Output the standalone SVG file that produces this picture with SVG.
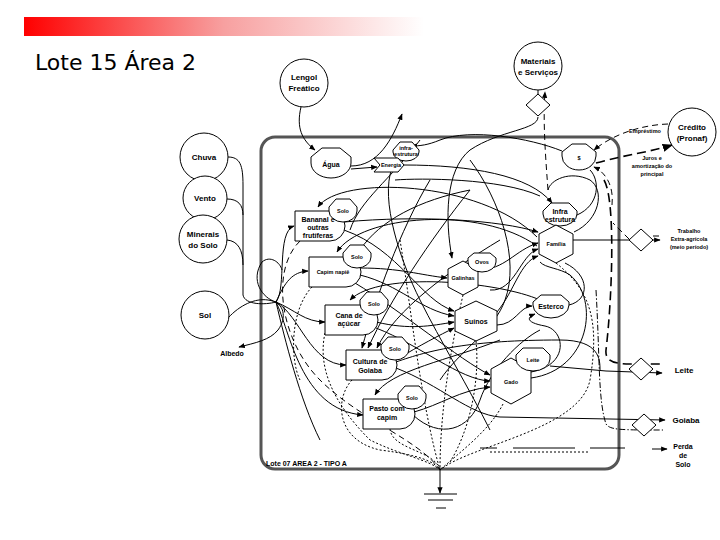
<svg xmlns="http://www.w3.org/2000/svg" width="720" height="540" viewBox="0 0 720 540">
<defs>
<linearGradient id="bar" x1="0" y1="0" x2="1" y2="0">
<stop offset="0" stop-color="#ff0000"/>
<stop offset="0.5" stop-color="#f7a0a0"/>
<stop offset="1" stop-color="#ffffff"/>
</linearGradient>
<marker id="ah" viewBox="0 0 10 10" refX="9" refY="5" markerWidth="6.5" markerHeight="6.5" orient="auto-start-reverse">
<path d="M0,1 L10,5 L0,9 Z" fill="#000"/>
</marker>
</defs>
<style>
.n{fill:#fff;stroke:#000;stroke-width:1}
.t{font-family:"Liberation Sans",Arial,sans-serif;font-weight:bold;font-size:7px;text-anchor:middle;fill:#000}
.tb{font-family:"Liberation Sans",Arial,sans-serif;font-weight:bold;font-size:8px;text-anchor:middle;fill:#000}
.ts{font-family:"Liberation Sans",Arial,sans-serif;font-weight:bold;font-size:5.5px;text-anchor:middle;fill:#000}
.c{fill:none;stroke:#000;stroke-width:1}
.a{marker-end:url(#ah)}
.d{stroke-dasharray:6 4}
.dh{stroke-dasharray:9 5;stroke-width:1.6}
.dt{stroke-dasharray:2 2}
.dd{stroke-dasharray:6 2 1.5 2}
</style>
<rect width="720" height="540" fill="#fff"/>
<rect x="24" y="17" width="400" height="19" fill="url(#bar)"/>
<text x="35" y="70" font-family="'DejaVu Sans',sans-serif" font-size="22" fill="#000">Lote 15 Área 2</text>

<rect x="261" y="137" width="358" height="332" rx="14" fill="none" stroke="#555" stroke-width="3"/>
<text x="266" y="466" font-family="'Liberation Sans',Arial,sans-serif" font-weight="bold" font-size="7" fill="#000">Lote 07  AREA 2 - TIPO A</text>

<g id="connectors">
<path class="c a" d="M301,107 C296,128 302,140 315,150"/>
<path class="c a" d="M351,166 C378,166 392,140 402,114"/>
<path class="c a" d="M351,169 L377,167"/>
<path class="c a" d="M404,165 C470,165 530,175 552,203"/>
<path class="c a" d="M562,151 C530,138 470,128 440,140 C428,145 420,146 411,146"/>
<path class="c" d="M538,90 L538,94"/>
<path class="c a" d="M538,117 C538,130 500,130 470,150 C445,170 445,220 452,258"/>
<path class="c d a" d="M548,190 C545,150 543,120 545,92"/>
<path class="c d a" d="M668,124 C640,125 612,135 594,150"/>
<path class="c dh a" d="M596,163 C625,155 650,152 672,145"/>
<path class="c d a" d="M612,205 C614,185 605,172 594,167"/>
<path class="c dh" d="M604,180 C616,200 612,300 606,350 C605,360 612,364 630,364 L663,364"/>
<path class="c dd" d="M596,290 C600,360 598,400 606,424 C610,430 620,430 663,430"/>
<path class="c d" d="M629,239 L613,223"/>
<path class="c d" d="M653,236 L661,236"/>
<path class="c a" d="M573,240 L660,240"/>
<path class="c a" d="M550,366 L606,371 L662,373"/>
<path class="c a" d="M396,368 C440,385 470,415 500,417 L665,420"/>
<path class="c" d="M480,448 L497,448 M513,448 L575,448 M590,448 L625,448"/>
<path class="c a" d="M652,449 L667,449"/>
<path class="c dt" d="M490,452 L590,452"/>

<path class="c" d="M228,157 C240,157 243,165 243,185 L243,295 C245,305 265,305 276,302"/>
<path class="c" d="M227,199 C238,199 243,205 243,215"/>
<path class="c" d="M227,240 C238,241 243,250 243,265"/>
<path class="c a" d="M228,318 C240,305 255,298 268,300 C285,302 287,318 278,330 C270,340 255,343 239,347"/>
<path class="c" d="M276,302 C262,298 250,280 262,262 C270,255 280,262 282,270"/>
<path class="c a" d="M276,302 C287,288 276,232 294,226"/>
<path class="c a" d="M276,302 C285,282 292,272 308,271"/>
<path class="c a" d="M276,302 C295,310 305,322 325,322"/>
<path class="c a" d="M276,302 C300,315 310,365 346,365"/>
<path class="c a" d="M276,302 C290,330 300,410 363,415"/>
<path class="c" d="M276,302 C285,340 300,400 320,440"/>

<path class="c a" d="M360,268 C400,268 420,275 447,278"/>
<path class="c a" d="M360,275 C400,285 420,310 454,316"/>
<path class="c a" d="M355,283 C400,310 460,360 490,375"/>
<path class="c a" d="M376,322 C410,330 430,326 454,322"/>
<path class="c a" d="M376,328 C420,345 460,380 490,381"/>
<path class="c a" d="M396,360 C420,345 440,335 454,328"/>
<path class="c a" d="M414,412 C440,405 460,390 490,387"/>
<path class="c a" d="M344,230 C400,250 420,300 454,311"/>
<path class="c a" d="M344,222 C420,215 500,220 538,232"/>
<path class="c a" d="M478,270 C505,270 515,250 538,243"/>
<path class="c a" d="M490,290 C515,292 520,255 538,249"/>
<path class="c a" d="M497,312 C515,290 520,262 538,256"/>
<path class="c a" d="M497,325 C515,325 520,306 532,306"/>
<path class="c a" d="M531,372 C570,365 565,330 545,326 C528,323 525,318 535,314"/>
<path class="c" d="M531,378 C590,370 600,300 570,275 C560,268 545,268 540,262"/>
<path class="c" d="M569,305 C590,300 590,275 565,263"/>
<path class="c" d="M574,232 C600,220 605,190 590,180 C570,170 550,180 548,190"/>
<path class="c" d="M577,215 C600,205 600,180 590,170"/>

<path class="c a" d="M537,237 C480,180 340,175 318,207"/>
<path class="c a" d="M537,246 C480,205 360,215 337,252"/>
<path class="c a" d="M540,300 C500,282 380,270 350,300"/>
<path class="c a" d="M430,180 C400,230 375,300 362,348"/>
<path class="c a" d="M470,190 C430,240 390,300 368,348"/>
<path class="c a" d="M500,240 C450,270 395,310 377,348"/>
<path class="c a" d="M500,340 C450,360 390,370 375,395"/>
<path class="c" d="M396,362 C430,350 470,340 560,340 C600,340 600,360 600,370"/>
<path class="c" d="M413,415 C440,440 470,430 480,400 C490,370 520,340 540,330"/>
<path class="c" d="M392,168 C380,200 400,260 420,300 C440,340 470,390 490,430"/>
<path class="c" d="M420,140 C390,180 360,200 350,230"/>
<path class="c" d="M470,160 C500,200 520,260 505,300 C495,330 460,350 440,380"/>
<path class="c" d="M360,250 C380,220 420,200 470,190"/>
<path class="c" d="M395,180 C420,178 500,178 540,196"/>

<path class="c d" d="M300,241 C270,270 280,340 320,380 C360,420 420,440 440,470"/>
<path class="c dt" d="M325,333 C318,365 330,400 370,440 C400,455 430,460 440,470"/>
<path class="c dt" d="M352,380 C335,398 335,440 380,450 C420,455 435,462 440,470"/>
<path class="c dt" d="M390,429 C392,450 435,450 440,470"/>
<path class="c dt" d="M503,404 C490,430 460,452 440,470"/>
<path class="c dt" d="M556,263 C590,290 600,320 590,380 C580,430 470,445 440,470"/>
<path class="c dt" d="M463,295 C455,330 440,400 440,470"/>
<path class="c dt" d="M400,240 C410,300 420,400 440,470"/>
<path class="c dt" d="M312,287 C290,310 290,360 300,380"/>
<path class="c dt" d="M476,341 C480,380 470,430 450,462"/>
<path class="c a" d="M440,470 L440,493"/>
<path class="c" d="M424,494 L457,494 M428,500 L453,500 M436,508 L446,508"/>
</g>

<g id="lengol"><circle class="n" cx="304" cy="83" r="24"/><text class="tb" x="304" y="80">Lengol</text><text class="tb" x="304" y="91">Freático</text></g>
<g id="materiais"><circle class="n" cx="538" cy="66" r="24"/><text class="tb" x="538" y="64">Materiais</text><text class="tb" x="538" y="75">e Serviços</text></g>
<g id="diam-mat"><path class="n" d="M538,94 L550,105 L538,116 L526,105 Z"/></g>
<g id="credito"><circle class="n" cx="692" cy="132" r="24"/><text class="tb" x="692" y="130">Crédito</text><text class="tb" x="692" y="141">(Pronaf)</text></g>
<g id="chuva"><circle class="n" cx="204" cy="157" r="24"/><text class="tb" x="204" y="160">Chuva</text></g>
<g id="vento"><circle class="n" cx="205" cy="198" r="22"/><text class="tb" x="205" y="201">Vento</text></g>
<g id="minerais"><circle class="n" cx="203" cy="239" r="24"/><text class="tb" x="203" y="237">Minerais</text><text class="tb" x="203" y="248">do Solo</text></g>
<g id="sol"><circle class="n" cx="205" cy="315" r="24"/><text class="tb" x="205" y="318">Sol</text></g>
<text class="t" x="232" y="356">Albedo</text>
<text class="ts" x="645" y="133">Empréstimo</text>
<text class="ts" x="652" y="160">Juros e</text><text class="ts" x="652" y="168">amortização do</text><text class="ts" x="652" y="176">principal</text>

<g id="agua"><path class="n" d="M311,157 L322,148 L340,148 L351,157 L351,163 A20,15 0 0 1 311,163 Z"/><text class="t" x="331" y="167">Água</text></g>
<g id="infra1"><path class="n" d="M393,150 L400,142 L412,142 L419,150 L419,152 A13,9 0 0 1 393,152 Z"/><text class="ts" x="406" y="150" font-size="4.5">infra-</text><text class="ts" x="406" y="156" font-size="4.5">estrutura</text></g>
<g id="energia"><path class="n" d="M374,158 L398,158 L404,165 L398,172 L374,172 L380,165 Z"/><text class="ts" x="391" y="167" font-size="4.5">Energia</text></g>
<g id="dinheiro"><path class="n" d="M562,152 L572,144 L586,144 L596,152 L596,156 A17,14 0 0 1 562,156 Z"/><text class="ts" x="579" y="160">$</text></g>
<g id="infra2"><path class="n" d="M543,211 L551,203 L569,203 L577,211 L577,214 A17,12 0 0 1 543,214 Z"/><text class="t" x="560" y="214">Infra</text><text class="t" x="560" y="222">estrutura</text></g>
<g id="familia"><path class="n" d="M556,225 L573,234 L573,254 L556,263 L539,254 L539,234 Z"/><text class="ts" x="556" y="246">Família</text></g>

<g id="bananal"><path class="n" d="M295,211 L330,211 A15,15 0 0 1 330,241 L295,241 Z"/><path class="n" d="M329,207 L336,199 L350,199 L357,207 L357,211 A14,11 0 0 1 329,211 Z"/><text class="ts" x="343" y="213">Solo</text><text class="t" x="318" y="222">Bananal e</text><text class="t" x="318" y="230">outras</text><text class="t" x="318" y="238">frutíferas</text></g>
<g id="capim"><path class="n" d="M309,257 L346,257 A15,15 0 0 1 346,287 L309,287 Z"/><path class="n" d="M343,253 L350,245 L364,245 L371,253 L371,257 A14,11 0 0 1 343,257 Z"/><text class="ts" x="357" y="259">Solo</text><text class="ts" x="333" y="274">Capim napiê</text></g>
<g id="cana"><path class="n" d="M325,305 L363,305 A15,15 0 0 1 363,335 L325,335 Z"/><path class="n" d="M360,300 L367,292 L381,292 L388,300 L388,304 A14,11 0 0 1 360,304 Z"/><text class="ts" x="374" y="306">Solo</text><text class="t" x="349" y="318">Cana de</text><text class="t" x="349" y="326">açúcar</text></g>
<g id="goiaba"><path class="n" d="M346,350 L382,350 A15,15 0 0 1 382,380 L346,380 Z"/><path class="n" d="M381,345 L388,337 L402,337 L409,345 L409,349 A14,11 0 0 1 381,349 Z"/><text class="ts" x="395" y="351">Solo</text><text class="t" x="370" y="364">Cultura de</text><text class="t" x="370" y="373">Goiaba</text></g>
<g id="pasto"><path class="n" d="M363,399 L400,399 A15,15 0 0 1 400,429 L363,429 Z"/><path class="n" d="M398,394 L405,386 L419,386 L426,394 L426,398 A14,11 0 0 1 398,398 Z"/><text class="ts" x="412" y="400">Solo</text><text class="t" x="387" y="411">Pasto com</text><text class="t" x="387" y="420">capim</text></g>

<g id="galinhas"><path class="n" d="M463,261 L478,269 L478,287 L463,295 L448,287 L448,269 Z"/><path class="n" d="M468,258 L474,253 L490,253 L496,258 L496,262 A14,10 0 0 1 468,262 Z"/><text class="ts" x="482" y="264">Ovos</text><text class="ts" x="463" y="280">Galinhas</text></g>
<g id="suinos"><path class="n" d="M476,301 L497,311 L497,331 L476,341 L455,331 L455,311 Z"/><text class="t" x="476" y="324">Suínos</text></g>
<g id="esterco"><path class="n" d="M533,302 L541,295 L561,295 L569,302 L569,305 A18,13 0 0 1 533,305 Z"/><text class="t" x="551" y="309">Esterco</text></g>
<g id="gado"><path class="n" d="M511,358 L531,369 L531,393 L511,404 L491,393 L491,369 Z"/><path class="n" d="M516,355 L523,348 L543,348 L550,355 L550,359 A17,12 0 0 1 516,359 Z"/><text class="ts" x="533" y="362">Leite</text><text class="ts" x="511" y="384">Gado</text></g>

<g id="diam-trab"><path class="n" d="M641,229 L653,240 L641,251 L629,240 Z"/></g>
<g id="diam-leite"><path class="n" d="M641,358 L653,369 L641,380 L629,369 Z"/></g>
<g id="diam-goiaba"><path class="n" d="M644,414 L656,425 L644,436 L632,425 Z"/></g>
<text class="ts" x="689" y="233">Trabalho</text><text class="ts" x="689" y="241">Extra-agrícola</text><text class="ts" x="689" y="249">(meio período)</text>
<text class="tb" x="684" y="373">Leite</text>
<text class="tb" x="686" y="423">Goiaba</text>
<text class="t" x="683" y="449">Perda</text><text class="t" x="683" y="458">de</text><text class="t" x="683" y="467">Solo</text>
</svg>
